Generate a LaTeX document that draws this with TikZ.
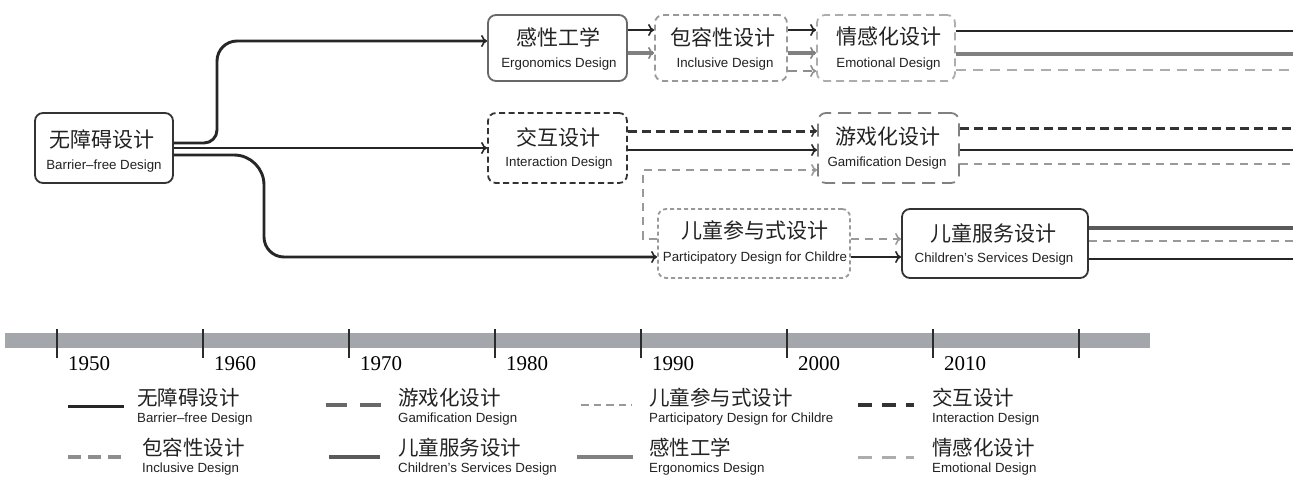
\documentclass[tikz,border=0pt]{standalone}
\usepackage{fontspec}
\setmainfont{Liberation Sans}
\newfontfamily\cjk{Noto Sans CJK SC}
\newfontfamily\yearfont{Liberation Serif}
\usetikzlibrary{arrows.meta,calc}
\definecolor{cBF}{HTML}{262626}
\definecolor{cErg}{HTML}{808080}
\definecolor{cInc}{HTML}{8E8E8E}
\definecolor{cEmo}{HTML}{ADADAD}
\definecolor{cInt}{HTML}{333333}
\definecolor{cGam}{HTML}{686868}
\definecolor{cPar}{HTML}{999999}
\definecolor{cCSD}{HTML}{5A5A5A}
\definecolor{cBar}{HTML}{A3A6AA}
\definecolor{cTick}{HTML}{2B2B2B}
\definecolor{cTxt}{HTML}{222222}
\begin{document}
\begin{tikzpicture}[x=1pt,y=-1pt,
  zh/.style={font=\cjk\fontsize{21}{21}\selectfont, inner sep=0pt, text=cTxt},
  en/.style={font=\fontsize{13.3}{14}\selectfont, inner sep=0pt, text=cTxt},
  lzh/.style={font=\cjk\fontsize{20.5}{21}\selectfont, inner sep=0pt, anchor=west, text=cTxt},
  len/.style={font=\fontsize{13.3}{14}\selectfont, inner sep=0pt, anchor=west, text=cTxt},
  yr/.style={font=\yearfont\fontsize{21}{21}\selectfont, inner sep=0pt, anchor=west, text=black},
  box/.style={rounded corners=8pt, line width=1.8pt, inner sep=0pt, fill=white},
  boxbf/.style={box, draw=cInt},
  boxerg/.style={box, draw=cGam},
  boxinc/.style={box, draw=cPar, dash pattern=on 6pt off 4pt},
  boxemo/.style={box, draw=cEmo, dash pattern=on 8pt off 5pt},
  boxint/.style={box, draw=cInt, dash pattern=on 6pt off 3.5pt},
  boxgam/.style={box, draw=cErg, dash pattern=on 13pt off 7pt},
  boxpar/.style={box, draw=cPar, dash pattern=on 4pt off 3pt},
  arr/.style={-{To[length=6pt,width=12pt,line width=1.6pt]}},
  bf/.style={draw=cBF, line width=2.9pt},
  erg/.style={draw=cErg, line width=3.4pt},
  inc/.style={draw=cInc, line width=2.8pt, dash pattern=on 9pt off 6pt},
  emo/.style={draw=cEmo, line width=2.8pt, dash pattern=on 10pt off 7pt},
  int/.style={draw=cInt, line width=3pt, dash pattern=on 9pt off 5pt},
  gam/.style={draw=cGam, line width=3.2pt, dash pattern=on 21pt off 13pt},
  par/.style={draw=cPar, line width=2.8pt, dash pattern=on 8pt off 6pt},
  csd/.style={draw=cCSD, line width=3.6pt}
]
\useasboundingbox (0,0) rectangle (1297,477);

% ---------- boxes ----------
\node[boxbf, minimum width=138pt, minimum height=70pt] (b1) at (104,148) {};
\node[boxerg, minimum width=139pt, minimum height=66pt] (b2) at (557.5,48) {};
\node[boxinc, minimum width=132pt, minimum height=66pt] (b3) at (721,48) {};
\node[boxemo, minimum width=138pt, minimum height=66pt] (b4) at (886,48) {};
\node[boxint, minimum width=139pt, minimum height=70pt] (b5) at (557.5,148) {};
\node[boxgam, minimum width=141pt, minimum height=70pt] (b6) at (888.5,148) {};
\node[boxpar, minimum width=192pt, minimum height=69pt] (b7) at (754,243.5) {};
\node[boxbf, minimum width=186pt, minimum height=69pt] (b8) at (995,243.5) {};

% ---------- box texts ----------
\node[zh] (t1a) at (102,140) {无障碍设计};
\node[en] (t1b) at (104,166) {Barrier–free Design};
\node[zh] (t2a) at (558,37) {感性工学};
\node[en] (t2b) at (559,64) {Ergonomics Design};
\node[zh] (t3a) at (723,37) {包容性设计};
\node[en] (t3b) at (725,64) {Inclusive Design};
\node[zh] (t4a) at (889,37) {情感化设计};
\node[en] (t4b) at (888.5,64) {Emotional Design};
\node[zh] (t5a) at (558.5,137) {交互设计};
\node[en] (t5b) at (559,163) {Interaction Design};
\node[zh] (t6a) at (887.5,137) {游戏化设计};
\node[en] (t6b) at (887,163) {Gamification Design};
\node[zh] (t7a) at (755,230) {儿童参与式设计};
\node[en] (t7b) at (755,258) {Participatory Design for Childre};
\node[zh] (t8a) at (993.5,233) {儿童服务设计};
\node[en] (t8b) at (994,259) {Children's Services Design};

% ---------- free ends on the right ----------
\coordinate (r1) at (1293,31);
\coordinate (r2) at (1293,54);
\coordinate (r3) at (1293,70);
\coordinate (r4) at (1293,128);
\coordinate (r5) at (1293,150);
\coordinate (r6) at (1293,164);
\coordinate (r7) at (1293,228);
\coordinate (r8) at (1293,241);
\coordinate (r9) at (1293,259);

% ---------- connectors from barrier-free ----------
\draw[bf, arr] ($(b1.east)+(0,-5)$) [rounded corners=13pt] -- (217,143) [rounded corners=20pt] -- (217,41) -- ($(b2.west)+(0,-7)$);
\draw[bf, arr] (b1.east) -- (b5.west);
\draw[bf, arr] ($(b1.east)+(0,7)$) [rounded corners=30pt] -- (264,155) [rounded corners=20pt] -- (264,257) -- ($(b7.west)+(0,13.5)$);

% ---------- row 1 ----------
\draw[bf, arr] ($(b2.east)+(0,-18)$) -- ($(b3.west)+(0,-18)$);
\draw[erg, arr] ($(b2.east)+(0,5)$) -- ($(b3.west)+(0,5)$);
\draw[bf, arr] ($(b3.east)+(0,-18)$) -- ($(b4.west)+(0,-18)$);
\draw[erg, arr] ($(b3.east)+(0,5)$) -- ($(b4.west)+(0,5)$);
\draw[inc, arr] ($(b3.east)+(0,23)$) -- ($(b4.west)+(0,23)$);
\draw[bf] (b4.east |- r1) -- (r1);
\draw[erg] (b4.east |- r2) -- (r2);
\draw[emo] (b4.east |- r3) -- (r3);

% ---------- row 2 ----------
\draw[int, arr] ($(b5.east)+(0,-17)$) -- ($(b6.west)+(0,-17)$);
\draw[bf, arr] ($(b5.east)+(0,2)$) -- ($(b6.west)+(0,2)$);
\draw[par, arr] ($(b7.west)+(0,-4.5)$) -- (643,239) -- (643,170) -- ($(b6.west)+(0,22)$);
\draw[int] (b6.east |- r4) -- (r4);
\draw[bf] (b6.east |- r5) -- (r5);
\draw[par] (b6.east |- r6) -- (r6);

% ---------- row 3 ----------
\draw[par, arr] ($(b7.east)+(0,-4.5)$) -- ($(b8.west)+(0,-4.5)$);
\draw[bf, arr] ($(b7.east)+(0,13.5)$) -- ($(b8.west)+(0,13.5)$);
\draw[csd] (b8.east |- r7) -- (r7);
\draw[par] (b8.east |- r8) -- (r8);
\draw[bf] (b8.east |- r9) -- (r9);

% ---------- timeline ----------
\fill[cBar] (5,333) rectangle (1150,348);
\foreach \tx/\yy in {57/1950,203/1960,349/1970,495/1980,641/1990,787/2000,933/2010}{
  \draw[cTick, line width=2.8pt] (\tx,329) -- (\tx,358);
  \node[yr] (y\yy) at (\tx+11,364) {\yy};
}
\draw[cTick, line width=2.8pt] (1079,329) -- (1079,358);

% ---------- legend ----------
\draw[bf, line width=3pt] (68,406) -- (124,406);
\node[lzh] (l1a) at (137,398) {无障碍设计};
\node[len] (l1b) at (137,419) {Barrier–free Design};
\draw[draw=cInc, line width=3.2pt, dash pattern=on 13pt off 7pt] (68,457) -- (124,457);
\node[lzh] (l5a) at (142,448) {包容性设计};
\node[len] (l5b) at (142,469) {Inclusive Design};

\draw[gam] (326,405) -- (382,405);
\node[lzh] (l2a) at (398,398) {游戏化设计};
\node[len] (l2b) at (398,419) {Gamification Design};
\draw[csd] (329,457) -- (380,457);
\node[lzh] (l6a) at (398,448) {儿童服务设计};
\node[len] (l6b) at (398,469) {Children's Services Design};

\draw[draw=cPar, line width=2.6pt, dash pattern=on 7.5pt off 5pt] (581,405) -- (632,405);
\node[lzh] (l3a) at (649,398) {儿童参与式设计};
\node[len] (l3b) at (649,419) {Participatory Design for Childre};
\draw[erg] (577,457) -- (633,457);
\node[lzh] (l7a) at (649,448) {感性工学};
\node[len] (l7b) at (649,469) {Ergonomics Design};

\draw[draw=cInt, line width=3.2pt, dash pattern=on 14pt off 10pt] (858,405) -- (914,405);
\node[lzh] (l4a) at (932,398) {交互设计};
\node[len] (l4b) at (932,419) {Interaction Design};
\draw[draw=cEmo, line width=3pt, dash pattern=on 14pt off 10pt] (858,457) -- (914,457);
\node[lzh] (l8a) at (932,448) {情感化设计};
\node[len] (l8b) at (932,469) {Emotional Design};
\end{tikzpicture}
\end{document}
